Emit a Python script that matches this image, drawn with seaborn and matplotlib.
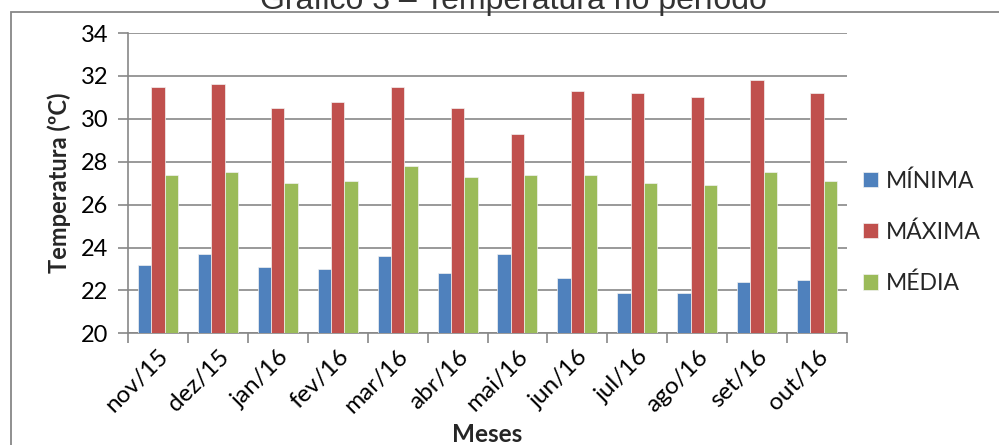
import numpy as np
import pandas as pd
import matplotlib
matplotlib.use("Agg")
import matplotlib.pyplot as plt
from matplotlib.patches import Rectangle
import seaborn as sns

# Monthly temperatures (ºC)
meses = ["nov/15", "dez/15", "jan/16", "fev/16", "mar/16", "abr/16",
         "mai/16", "jun/16", "jul/16", "ago/16", "set/16", "out/16"]
minima = [23.2, 23.7, 23.1, 23.0, 23.6, 22.8, 23.7, 22.6, 21.9, 21.9, 22.4, 22.5]
maxima = [31.5, 31.6, 30.5, 30.8, 31.5, 30.5, 29.3, 31.3, 31.2, 31.0, 31.8, 31.2]
media = [27.4, 27.5, 27.0, 27.1, 27.8, 27.3, 27.4, 27.4, 27.0, 26.9, 27.5, 27.1]
series = ["MÍNIMA", "MÁXIMA", "MÉDIA"]
cores = ["#4F81BD", "#C0504D", "#9BBB59"]
yticks = [20, 22, 24, 26, 28, 30, 32, 34]

df = pd.DataFrame({
    "Mês": meses * 3,
    "Série": [series[0]] * 12 + [series[1]] * 12 + [series[2]] * 12,
    "Temperatura": minima + maxima + media,
})

sns.set_theme(style="white")
plt.rcParams["font.family"] = ["Lato", "DejaVu Sans"]

grid_col = "#878787"
fig = plt.figure(figsize=(9.99, 4.45), dpi=100)
ax = fig.add_axes([128 / 999, 1 - 333.3 / 445, (847 - 128) / 999, (333.3 - 33) / 445])

sns.barplot(data=df, x="Mês", y="Temperatura", hue="Série", hue_order=series,
            palette=cores, width=0.667, gap=0, saturation=1, ax=ax,
            edgecolor="#f2f2f2", linewidth=0.5, zorder=3)

ax.set_ylim(20, 34)
ax.set_xlim(-0.5, 11.5)
ax.set_yticks(yticks)
ax.set_yticklabels([str(v) for v in yticks], fontsize=17, color="black")
ax.yaxis.grid(True, color=grid_col, linewidth=1.2, zorder=0)
ax.set_axisbelow(True)

# category labels centred, tick marks between categories
ax.set_xticks(range(len(meses)))
ax.set_xticklabels(meses, rotation=45, ha="right", rotation_mode="anchor",
                   fontsize=17.5, color="black")
ax.tick_params(axis="x", which="major", length=0, pad=9)
ax.set_xticks(np.arange(-0.5, len(meses), 1), minor=True)
ax.tick_params(axis="x", which="minor", length=7, width=1.2, color=grid_col,
               direction="out", bottom=True)
ax.tick_params(axis="y", length=7, width=1.2, color=grid_col, direction="out",
               left=True, pad=7)

for side in ["top", "right"]:
    ax.spines[side].set_visible(False)
for side in ["left", "bottom"]:
    ax.spines[side].set_color(grid_col)
    ax.spines[side].set_linewidth(1.2)

ax.set_ylabel("Temperatura (ºC)", fontsize=17, fontweight="bold", labelpad=7)
ax.set_xlabel("Meses", fontsize=17.5, fontweight="bold")
ax.xaxis.set_label_coords(0.5, -0.300)

handles, labels = ax.get_legend_handles_labels()
ax.get_legend().remove()
ax.legend(handles, labels, loc="center left", bbox_to_anchor=(0.994, 0.337),
          frameon=False, fontsize=16.5, handlelength=0.65, handleheight=0.65,
          handletextpad=0.35, labelspacing=1.3)

# outer chart frame and title
fig.patches.append(Rectangle((10.5 / 999, -0.1), 2, (445 - 11.5) / 445 + 0.1,
                             transform=fig.transFigure, fill=False,
                             edgecolor=grid_col, linewidth=1.3, zorder=0))
fig.text(513 / 999, 1 - 9 / 445, "Gráfico 3 – Temperatura no período",
         ha="center", va="baseline", fontsize=23, color="#333333",
         family=["Liberation Sans", "DejaVu Sans"])

fig.savefig("out.png", dpi=100)
